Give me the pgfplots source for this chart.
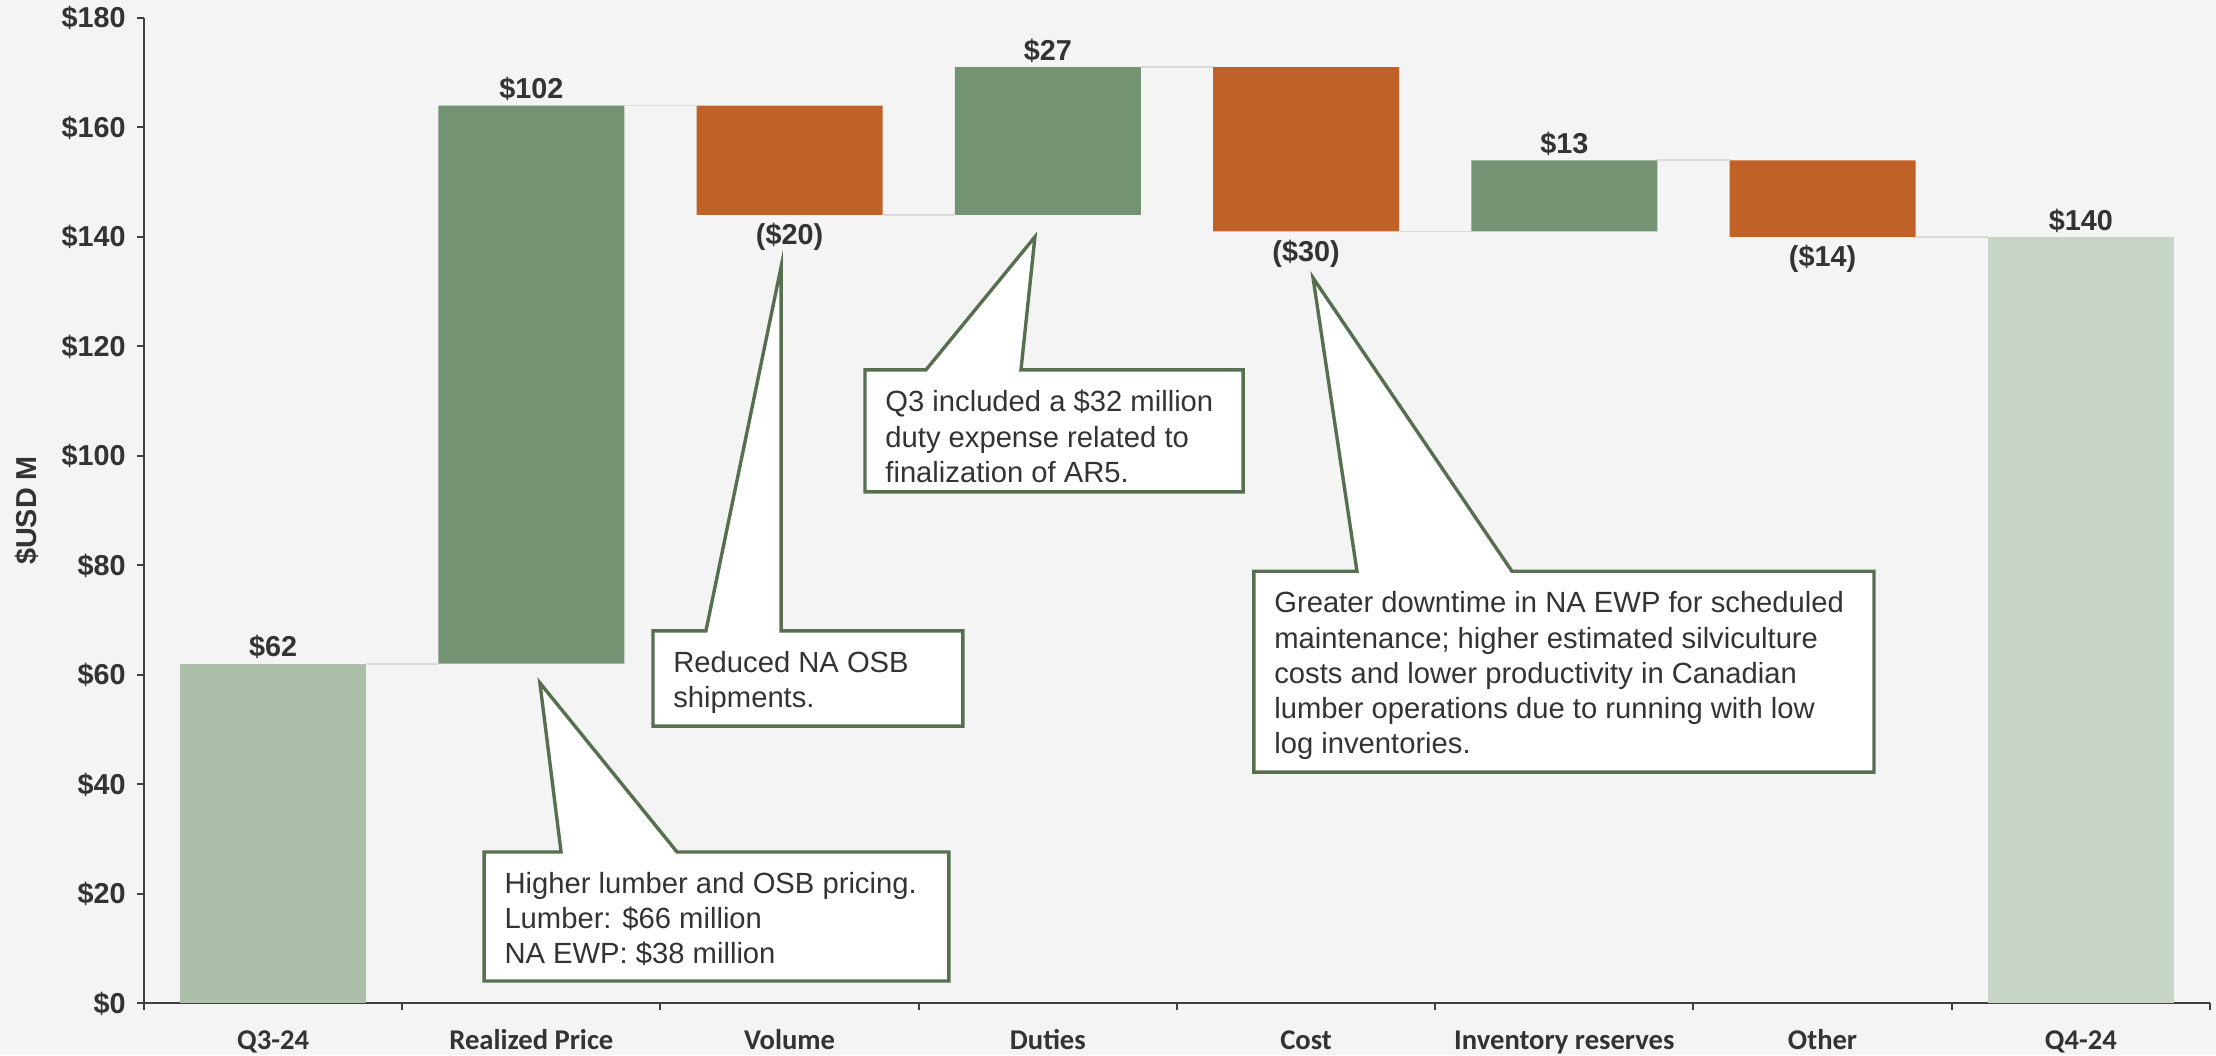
\documentclass[border=0pt]{standalone}
\usepackage{fontspec}
\setmainfont{Liberation Sans}
\newfontfamily\carlito{Carlito}
\usepackage{pgfplots}
\pgfplotsset{compat=1.18}
\definecolor{bg}{HTML}{F4F4F4}
\definecolor{startc}{HTML}{ABBFA9}
\definecolor{endc}{HTML}{C8D4C7}
\definecolor{posc}{HTML}{739372}
\definecolor{negc}{HTML}{C06128}
\definecolor{txt}{HTML}{333333}
\definecolor{axc}{HTML}{404040}
\definecolor{callc}{HTML}{56704F}
\definecolor{conn}{HTML}{D9D9D9}
\newcommand{\lblfont}{\fontsize{14.4}{16}\selectfont\bfseries}
\newcommand{\callfont}{\fontsize{14.6}{17.6}\selectfont}
\pgfplotsset{wfbase/.style={scale only axis, width=1033pt, height=492.5pt,
  xmin=-0.5, xmax=7.5, ymin=0, ymax=180, clip=false}}
\begin{document}
\begin{tikzpicture}
\fill[bg] (-72pt,-26pt) rectangle (1036pt,501.5pt);
\begin{axis}[
  wfbase,
  axis x line*=bottom, axis y line*=left,
  axis line style={axc, line width=1pt},
  ybar stacked, bar width=0.72,
  tick align=outside, major tick length=3.5pt, minor tick length=3.5pt,
  tick style={axc, line width=1pt},
  xtick={0,...,7},
  xticklabels={Q3-24,Realized Price,Volume,Duties,Cost,Inventory reserves,Other,Q4-24},
  minor xtick={-0.5,0.5,...,7.5},
  major x tick style={draw=none},
  xticklabel style={font=\carlito\fontsize{14.3}{15}\selectfont\bfseries, text=txt, anchor=north, inner sep=0pt, text height=10pt, text depth=2pt, yshift=-9.4pt},
  ytick={0,20,...,180},
  yticklabels={\$0,\$20,\$40,\$60,\$80,\$100,\$120,\$140,\$160,\$180},
  yticklabel style={font=\lblfont, text=txt, anchor=base east, inner sep=0pt, xshift=-5.5pt, yshift=-5pt},
  every axis y label/.style={at={(axis description cs:-0.0566,0.5)}, rotate=90, anchor=center, font=\lblfont, text=txt},
  ylabel={\$USD M},
]
% invisible base
\addplot[draw=none, fill=none] coordinates {(0,0) (1,62) (2,144) (3,144) (4,141) (5,141) (6,140) (7,0)};
% start bar
\addplot[draw=none, fill=startc] coordinates {(0,62) (1,0) (2,0) (3,0) (4,0) (5,0) (6,0) (7,0)};
% increases
\addplot[draw=none, fill=posc] coordinates {(0,0) (1,102) (2,0) (3,27) (4,0) (5,13) (6,0) (7,0)};
% decreases
\addplot[draw=none, fill=negc] coordinates {(0,0) (1,0) (2,20) (3,0) (4,30) (5,0) (6,14) (7,0)};
% end bar
\addplot[draw=none, fill=endc] coordinates {(0,0) (1,0) (2,0) (3,0) (4,0) (5,0) (6,0) (7,140)};
\end{axis}
\begin{axis}[wfbase, hide axis]
% connectors
\addplot[no marks, conn, line width=0.9pt] coordinates {(0.36,62) (0.64,62)};
\addplot[no marks, conn, line width=0.9pt] coordinates {(1.36,164) (1.64,164)};
\addplot[no marks, conn, line width=0.9pt] coordinates {(2.36,144) (2.64,144)};
\addplot[no marks, conn, line width=0.9pt] coordinates {(3.36,171) (3.64,171)};
\addplot[no marks, conn, line width=0.9pt] coordinates {(4.36,141) (4.64,141)};
\addplot[no marks, conn, line width=0.9pt] coordinates {(5.36,154) (5.64,154)};
\addplot[no marks, conn, line width=0.9pt] coordinates {(6.36,140) (6.64,140)};

% value labels
\begin{scope}[every node/.style={font=\lblfont, text=txt, inner sep=0pt}]
\node[anchor=base, yshift=3.4pt] at (axis cs:0,62) {\$62};
\node[anchor=base, yshift=3.4pt] at (axis cs:1,164) {\$102};
\node[anchor=base, yshift=-15pt] at (axis cs:2,144) {(\$20)};
\node[anchor=base, yshift=3.4pt] at (axis cs:3,171) {\$27};
\node[anchor=base, yshift=-15pt] at (axis cs:4,141) {(\$30)};
\node[anchor=base, yshift=3.4pt] at (axis cs:5,154) {\$13};
\node[anchor=base, yshift=-15pt] at (axis cs:6,140) {(\$14)};
\node[anchor=base, yshift=3.4pt] at (axis cs:7,140) {\$140};
\end{scope}

% callouts
\begin{scope}[callc, line width=1.7pt, line join=miter]
\filldraw[fill=white] (axis cs:0.817,27.6) -- (axis cs:1.115,27.6) -- (axis cs:1.033,58.5) -- (axis cs:1.564,27.6) -- (axis cs:2.617,27.6) -- (axis cs:2.617,4.02) -- (axis cs:0.817,4.02) -- cycle;
\filldraw[fill=white] (axis cs:1.471,68.0) -- (axis cs:1.676,68.0) -- (axis cs:1.967,134.5) -- (axis cs:1.967,68.0) -- (axis cs:2.671,68.0) -- (axis cs:2.671,50.6) -- (axis cs:1.471,50.6) -- cycle;
\filldraw[fill=white] (axis cs:2.292,115.7) -- (axis cs:2.528,115.7) -- (axis cs:2.950,140.0) -- (axis cs:2.896,115.7) -- (axis cs:3.756,115.7) -- (axis cs:3.756,93.4) -- (axis cs:2.292,93.4) -- cycle;
\filldraw[fill=white] (axis cs:3.798,78.9) -- (axis cs:4.197,78.9) -- (axis cs:4.027,132.5) -- (axis cs:4.797,78.9) -- (axis cs:6.199,78.9) -- (axis cs:6.199,42.2) -- (axis cs:3.798,42.2) -- cycle;
\end{scope}
\begin{scope}[every node/.style={font=\callfont, text=txt, inner sep=0pt, align=left, anchor=north west, xshift=10pt, yshift=-10pt}]
\node at (axis cs:0.817,27.6) {Higher lumber and OSB pricing.\\Lumber: \$66 million\\NA EWP: \$38 million};
\node at (axis cs:1.471,68.0) {Reduced NA OSB\\shipments.};
\node at (axis cs:2.292,115.7) {Q3 included a \$32 million\\duty expense related to\\finalization of AR5.};
\node at (axis cs:3.798,78.9) {Greater downtime in NA EWP for scheduled\\maintenance; higher estimated silviculture\\costs and lower productivity in Canadian\\lumber operations due to running with low\\log inventories.};
\end{scope}
\end{axis}
\pgfresetboundingbox
\path[use as bounding box] (-72pt,-26pt) rectangle (1036pt,501.5pt);
\end{tikzpicture}
\end{document}
